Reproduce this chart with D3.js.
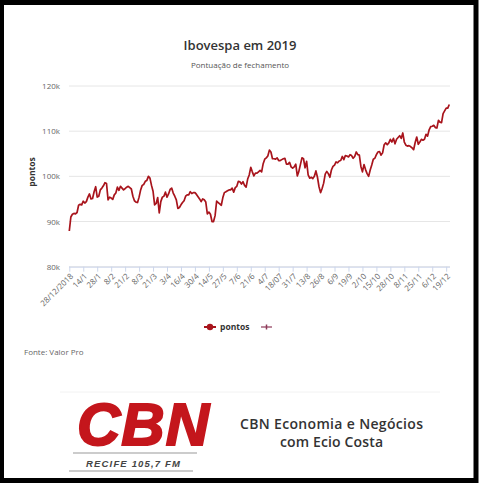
<!DOCTYPE html>
<html>
<head>
<meta charset="utf-8">
<script src="https://cdn.jsdelivr.net/npm/d3@7"></script>
<style>
  body { margin: 0; background: #fff; }
  svg { display: block; font-family: "Open Sans", sans-serif; }
</style>
</head>
<body>
<svg id="chart"></svg>
<script>
// x axis labels, one every 9 trading days
const tickLabels = ["28/12/2018", "14/1", "28/1", "8/2", "21/2", "8/3", "21/3", "3/4", "16/4", "30/4",
  "14/5", "27/5", "7/6", "21/6", "4/7", "18/07", "31/7", "13/8", "26/8", "6/9", "19/9", "2/10",
  "15/10", "28/10", "8/11", "25/11", "6/12", "19/12"];
const labelStep = 9;
const yTicks = [80, 90, 100, 110, 120];

// closing points in thousands
const pontos = [
  87.9, 91.0, 91.6, 91.8, 91.7, 92.0, 93.6, 93.8, 93.7,
  94.5, 94.1, 94.4, 95.4, 96.1, 95.0, 95.1, 96.6, 97.7,
  95.4, 95.6, 97.0, 97.4, 97.9, 98.6, 98.4, 94.8, 95.4,
  95.2, 94.9, 95.9, 96.3, 97.6, 96.9, 97.8, 97.4, 97.0,
  97.3, 97.6, 97.8, 97.5, 97.2, 95.6, 94.6, 94.3, 94.2,
  95.4, 97.0, 98.0, 98.2, 98.9, 99.1, 100.0, 99.6, 98.0,
  96.7, 93.7, 94.0, 95.3, 91.9, 94.4, 95.4, 95.6, 96.5,
  95.4, 96.1, 97.1, 97.4, 96.3, 95.6, 94.8, 92.9, 93.1,
  93.7, 94.2, 94.6, 95.6, 95.9, 95.9, 96.6, 96.2, 96.4,
  96.4, 96.0, 95.5, 95.0, 94.4, 95.0, 94.8, 94.3, 91.7,
  92.1, 91.6, 90.0, 90.0, 91.3, 94.5, 94.2, 93.9, 93.6,
  95.3, 96.4, 96.6, 96.8, 97.0, 97.0, 97.4, 96.5, 97.5,
  97.8, 98.9, 98.8, 98.3, 98.8, 98.0, 97.6, 99.4, 100.3,
  102.0, 101.0, 100.1, 100.7, 100.7, 101.0, 101.3, 101.0, 102.8,
  103.8, 104.1, 104.5, 105.8, 105.4, 103.9, 103.9, 103.8, 104.1,
  103.5, 103.5, 103.7, 103.9, 104.0, 102.7, 102.7, 103.1, 102.1,
  101.8, 102.1, 102.7, 100.1, 101.1, 102.6, 104.1, 103.9, 101.9,
  103.3, 100.3, 99.6, 99.8, 99.5, 100.0, 101.2, 99.8, 97.7,
  96.4, 97.3, 98.5, 100.5, 101.1, 100.6, 99.8, 101.4, 102.2,
  102.5, 103.2, 103.0, 103.4, 103.5, 104.4, 103.7, 104.6, 104.5,
  104.3, 104.8, 104.6, 104.0, 104.4, 105.4, 104.8, 104.7, 102.2,
  101.0, 102.6, 101.5, 100.6, 100.0, 101.4, 102.5, 103.8, 104.0,
  104.8, 105.4, 105.5, 104.7, 105.2, 107.0, 107.4, 107.0, 107.4,
  108.2, 107.6, 108.4, 107.2, 108.2, 108.6, 109.0, 108.4, 109.6,
  107.6, 106.9, 106.7, 106.8, 106.6, 106.3, 105.9, 107.5, 108.7,
  107.1, 107.6, 108.2, 108.0, 108.2, 109.3, 108.9, 110.3, 111.0,
  111.1, 111.3, 110.8, 110.7, 112.4, 112.0, 111.9, 113.9, 114.5,
  115.1, 115.1, 115.9
];

const width = 482;
const height = 483;
const lineColor = "#a8141c";

const svg = d3.select("#chart")
  .attr("width", width)
  .attr("height", height);

svg.append("rect")
  .attr("width", width).attr("height", height)
  .attr("fill", "#fff");

const x = d3.scaleLinear()
  .domain([0, pontos.length - 1])
  .range([69.3, 449.3]);

const y = d3.scaleLinear()
  .domain([80, 120])
  .range([266.7, 86]);

// titles
svg.append("text")
  .attr("x", 240).attr("y", 50)
  .attr("text-anchor", "middle")
  .style("font-size", "13px")
  .style("font-weight", 600)
  .style("fill", "#333")
  .text("Ibovespa em 2019");

svg.append("text")
  .attr("x", 240).attr("y", 68)
  .attr("text-anchor", "middle")
  .style("font-size", "8px")
  .style("fill", "#555")
  .text("Pontuação de fechamento");

// grid + y axis
svg.append("g")
  .selectAll("line")
  .data(yTicks)
  .enter()
  .append("line")
  .attr("x1", 69).attr("x2", 450)
  .attr("y1", d => y(d)).attr("y2", d => y(d))
  .style("stroke", "#e6e6e6")
  .style("stroke-width", 1);

const yAxis = svg.append("g")
  .attr("transform", "translate(60,0)")
  .call(d3.axisLeft(y).tickValues(yTicks).tickSize(0).tickFormat(d => d + "k"));
yAxis.select(".domain").remove();
yAxis.selectAll("text")
  .attr("x", 0)
  .style("font-family", "Open Sans, sans-serif")
  .style("font-size", "8px")
  .style("fill", "#666");

svg.append("text")
  .attr("transform", "translate(35,172) rotate(-90)")
  .attr("text-anchor", "middle")
  .style("font-size", "8.5px")
  .style("font-weight", "bold")
  .style("fill", "#333")
  .text("pontos");

// x axis
const xAxis = svg.append("g")
  .attr("transform", `translate(0,${y(80)})`)
  .call(d3.axisBottom(x)
    .tickValues(tickLabels.map((d, i) => i * labelStep))
    .tickSize(5)
    .tickFormat((d, i) => tickLabels[i]));
xAxis.select(".domain").attr("d", `M69,0.5H450`).style("stroke", "#ccd6eb");
xAxis.selectAll(".tick line").style("stroke", "#ccd6eb");
xAxis.selectAll("text")
  .attr("text-anchor", "end")
  .attr("dy", 0)
  .attr("y", 0)
  .attr("transform", "translate(4,10) rotate(-45)")
  .style("font-family", "Open Sans, sans-serif")
  .style("font-size", "8px")
  .style("fill", "#666");

// the line
const line = d3.line()
  .x((d, i) => x(i))
  .y(d => y(d));

svg.append("path")
  .datum(pontos)
  .attr("d", line)
  .style("fill", "none")
  .style("stroke", lineColor)
  .style("stroke-width", 1.7)
  .style("stroke-linejoin", "round");

// legend
const legend = svg.append("g").attr("transform", "translate(0,327)");
legend.append("line")
  .attr("x1", 204).attr("x2", 216)
  .style("stroke", lineColor).style("stroke-width", 2);
legend.append("circle")
  .attr("cx", 210).attr("r", 3.2)
  .style("fill", lineColor);
legend.append("text")
  .attr("x", 220).attr("y", 3)
  .style("font-size", "8.5px")
  .style("font-weight", "bold")
  .style("fill", "#333")
  .text("pontos");
legend.append("line")
  .attr("x1", 261).attr("x2", 272)
  .style("stroke", "#8e3a59").style("stroke-width", 1.2);
legend.append("line")
  .attr("x1", 266.5).attr("x2", 266.5).attr("y1", -2.5).attr("y2", 2.5)
  .style("stroke", "#8e3a59").style("stroke-width", 1.5);

svg.append("text")
  .attr("x", 24).attr("y", 355)
  .style("font-size", "8px")
  .style("fill", "#666")
  .text("Fonte: Valor Pro");

// logo strip
svg.append("line")
  .attr("x1", 60).attr("x2", 440).attr("y1", 392).attr("y2", 392)
  .style("stroke", "#f2f2f2");

svg.append("text")
  .attr("x", 77).attr("y", 445)
  .style("font-family", "Liberation Sans, Arial, sans-serif")
  .style("font-size", "60px")
  .style("font-weight", "bold")
  .style("font-style", "italic")
  .style("fill", "#c4161c")
  .style("stroke", "#c4161c")
  .style("stroke-width", 2)
  .attr("textLength", 132)
  .text("CBN");

svg.append("line")
  .attr("x1", 73).attr("x2", 197).attr("y1", 453).attr("y2", 453)
  .style("stroke", "#999").style("stroke-width", 1.2);
svg.append("line")
  .attr("x1", 69).attr("x2", 193).attr("y1", 471).attr("y2", 471)
  .style("stroke", "#999").style("stroke-width", 1.2);
svg.append("text")
  .attr("x", 86).attr("y", 467)
  .style("font-family", "Liberation Sans, Arial, sans-serif")
  .style("font-size", "9.5px")
  .style("font-weight", "bold")
  .style("font-style", "italic")
  .style("fill", "#444")
  .attr("textLength", 94)
  .text("RECIFE  105,7 FM");

svg.append("text")
  .attr("x", 240).attr("y", 429)
  .style("font-size", "14px")
  .style("font-weight", 600)
  .style("fill", "#333")
  .attr("textLength", 183)
  .text("CBN Economia e Negócios");
svg.append("text")
  .attr("x", 280).attr("y", 447)
  .style("font-size", "14px")
  .style("font-weight", 600)
  .style("fill", "#333")
  .attr("textLength", 103)
  .text("com Ecio Costa");

// black frame
svg.append("rect")
  .attr("x", 1.5).attr("y", 2.5)
  .attr("width", 474.5).attr("height", 478)
  .style("fill", "none")
  .style("stroke", "#000")
  .style("stroke-width", 5);
</script>
</body>
</html>
